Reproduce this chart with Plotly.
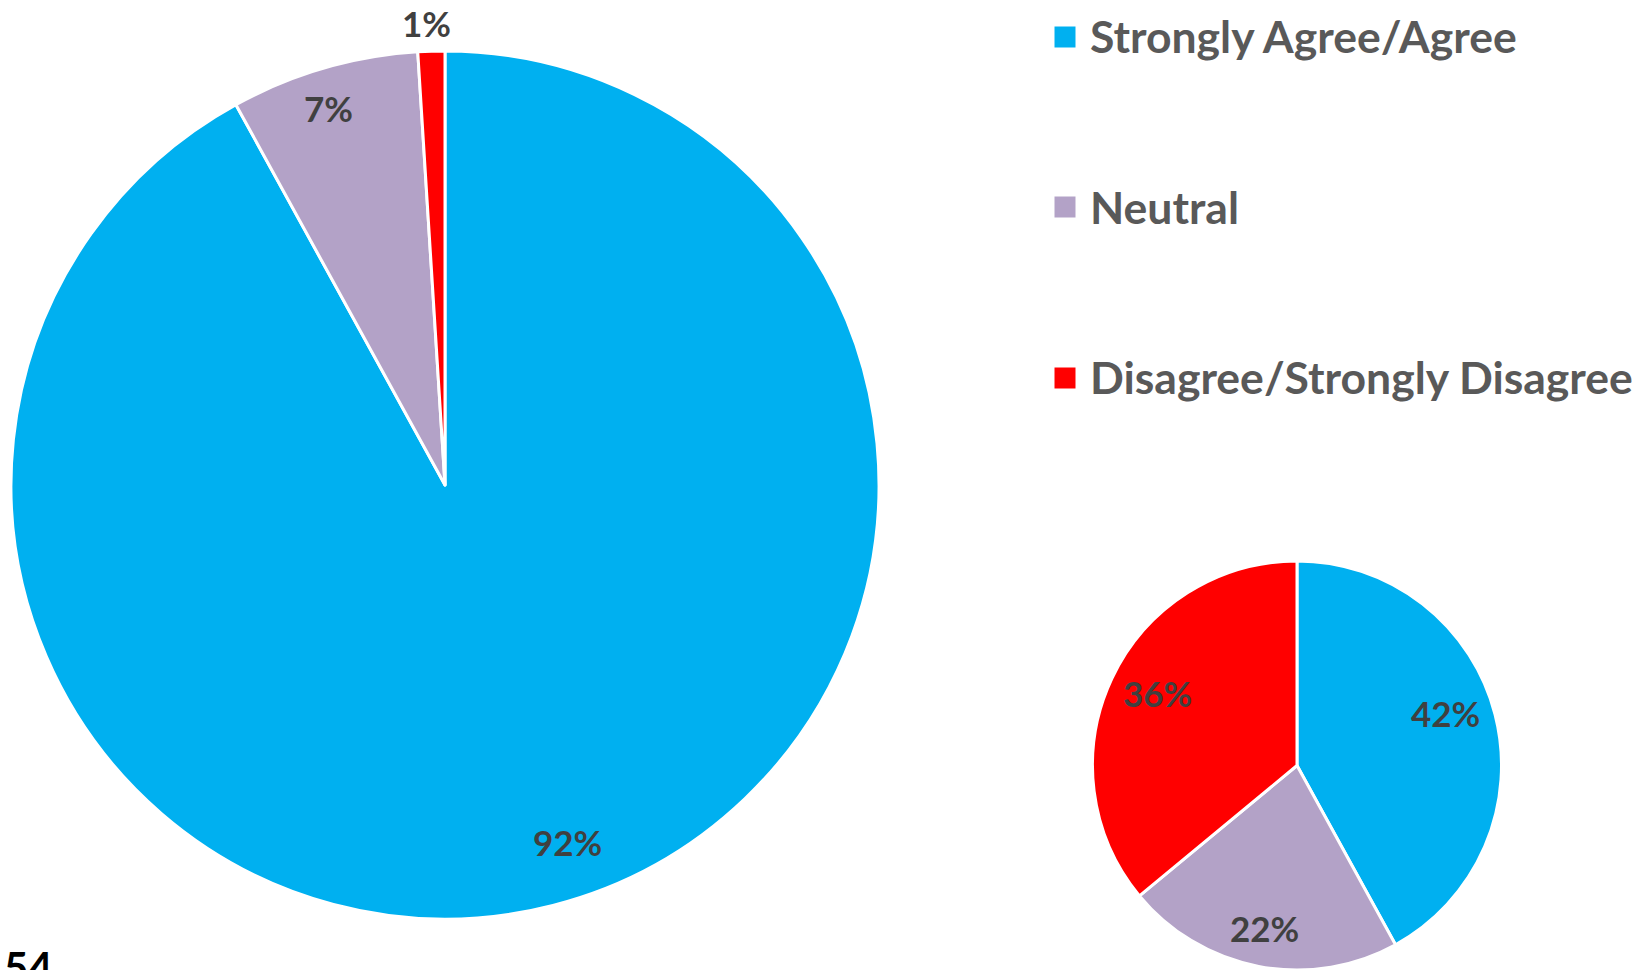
import math
import plotly.graph_objects as go

# Survey response shares (percent)
categories = ["Strongly Agree/Agree", "Neutral", "Disagree/Strongly Disagree"]
overall_pct = [92, 7, 1]
subgroup_pct = [42, 22, 36]
slide_number = "54"

COLORS = ["#00B0F0", "#B3A2C7", "#FF0000"]
W, H = 1647, 970
FONT = "Lato"

# Pie placement in pixels: (left, top, right, bottom)
BIG_BOX = (11, 51, 879, 919)
SMALL_BOX = (1091, 561, 1503, 970)

# Value label placement: radial fraction of the pie radius, and a small
# angular nudge (degrees) away from the slice's mid-angle
BIG_LABEL_R = [0.87, 0.91, 1.065]
BIG_LABEL_DA = [-4.6, -1.0, -0.5]
SMALL_LABEL_R = [0.77, 0.81, 0.77]
SMALL_LABEL_DA = [-5.0, 0.5, 2.3]


def domain(box):
    l, t, r, b = box
    return dict(x=[l / W, r / W], y=[1 - b / H, 1 - t / H])


def label_annotations(values, box, radial, nudge):
    l, t, r, b = box
    cx, cy = (l + r) / 2, (t + b) / 2
    rad = min(r - l, b - t) / 2
    total = sum(values)
    out = []
    start = 0.0
    for v, f, da in zip(values, radial, nudge):
        mid = (start + v / 2) / total * 2 * math.pi + math.radians(da)
        start += v
        px = cx + rad * f * math.sin(mid)
        py = cy - rad * f * math.cos(mid)
        out.append(dict(
            x=px / W, y=1 - py / H, xref="paper", yref="paper",
            text=f"{v}%", showarrow=False, xanchor="center", yanchor="middle",
            font=dict(family=FONT, size=35, color="#404040", weight=700),
        ))
    return out


fig = go.Figure()
for vals, box in ((overall_pct, BIG_BOX), (subgroup_pct, SMALL_BOX)):
    fig.add_trace(go.Pie(
        labels=categories, values=vals, sort=False, direction="clockwise",
        rotation=0, domain=domain(box), textinfo="none", hoverinfo="label+percent",
        marker=dict(colors=COLORS, line=dict(color="white", width=3)),
        showlegend=False,
    ))

annotations = label_annotations(overall_pct, BIG_BOX, BIG_LABEL_R, BIG_LABEL_DA)
annotations += label_annotations(subgroup_pct, SMALL_BOX, SMALL_LABEL_R, SMALL_LABEL_DA)

# Legend drawn as squares plus text
shapes = []
legend_y = [36, 206, 377]
sq = 21
for name, col, y in zip(categories, COLORS, legend_y):
    shapes.append(dict(
        type="rect", xref="paper", yref="paper",
        x0=(1065 - sq / 2) / W, x1=(1065 + sq / 2) / W,
        y0=1 - (y + 1 + sq / 2) / H, y1=1 - (y + 1 - sq / 2) / H,
        fillcolor=col, line=dict(width=0),
    ))
    annotations.append(dict(
        x=1088 / W, y=1 - y / H, xref="paper", yref="paper", text=name,
        showarrow=False, xanchor="left", yanchor="middle",
        font=dict(family=FONT, size=44.5, color="#595959", weight=700),
    ))

annotations.append(dict(
    x=2 / W, y=1 - 940 / H, xref="paper", yref="paper", text=slide_number,
    showarrow=False, xanchor="left", yanchor="top",
    font=dict(family=FONT, size=42, color="#000000", weight=700),
))

fig.update_layout(
    width=W, height=H, autosize=False,
    margin=dict(l=0, r=0, t=0, b=0),
    paper_bgcolor="white", plot_bgcolor="white",
    annotations=annotations, shapes=shapes,
)

fig.write_html("out.html")
